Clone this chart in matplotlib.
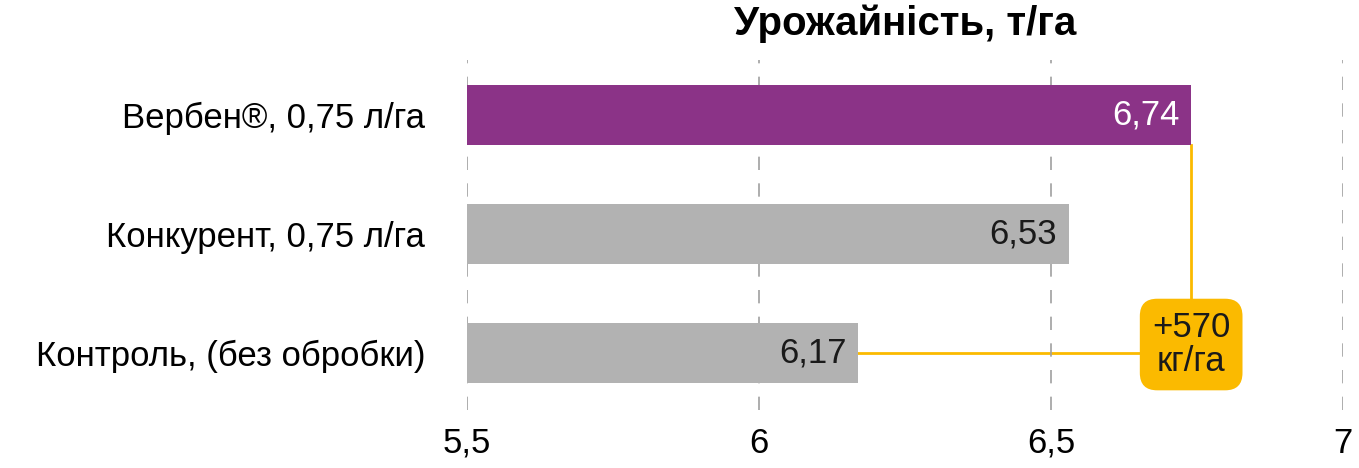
import matplotlib
matplotlib.use("Agg")
import matplotlib.pyplot as plt

categories = ["Вербен®, 0,75 л/га", "Конкурент, 0,75 л/га", "Контроль, (без обробки)"]
values = [6.74, 6.53, 6.17]
colors = ["#8B3387", "#B2B2B2", "#B2B2B2"]
xticks = [5.5, 6, 6.5, 7]
xtick_labels = ["5,5", "6", "6,5", "7"]
diff_label = "+570\nкг/га"

plt.rcParams['font.family'] = ['Liberation Sans', 'DejaVu Sans']
fig = plt.figure(figsize=(13.59, 4.68), dpi=100)
ax = fig.add_axes([467/1359, 1-410/468, (1343-467)/1359, 350/468])
ys = list(range(len(categories)))
ax.barh(ys, [v - 5.5 for v in values], left=5.5, height=0.5, color=colors, zorder=2)
ax.set_xlim(5.5, 7)
ax.set_ylim(2.48, -0.46)
ax.set_xticks(xticks)
ax.set_xticklabels(xtick_labels, fontsize=25)
ax.set_yticks(ys)
ax.set_yticklabels(categories, fontsize=25)
ax.tick_params(length=0, pad=12)
ax.tick_params(axis='y', pad=30)
for s in ax.spines.values():
    s.set_visible(False)
ax.grid(axis='x', color='#A0A0A0', linestyle=(0, (8, 8)), linewidth=1.2, zorder=0)
for y, v, c in zip(ys, values, colors):
    ax.text(v - 0.02, y, f"{v:.2f}".replace(".", ","), ha='right', va='center',
            fontsize=25, color='white' if y == 0 else '#1a1a1a', zorder=3)
yel = "#FBBA00"
ax.plot([values[0], values[0]], [0.25, 2], color=yel, lw=2, zorder=1)
ax.plot([values[2], values[0]], [2, 2], color=yel, lw=2, zorder=1)
ax.text(values[0], 1.93, diff_label, ha='center', va='center', fontsize=25, color='#1a1a1a',
        linespacing=1.05, zorder=4,
        bbox=dict(boxstyle='round,pad=0.35,rounding_size=0.5', fc=yel, ec='none'))
fig.text(905/1359, 1-24/468, "Урожайність, т/га", ha='center', va='center',
         fontsize=29, fontweight='bold')
fig.savefig("out.png", dpi=100)
